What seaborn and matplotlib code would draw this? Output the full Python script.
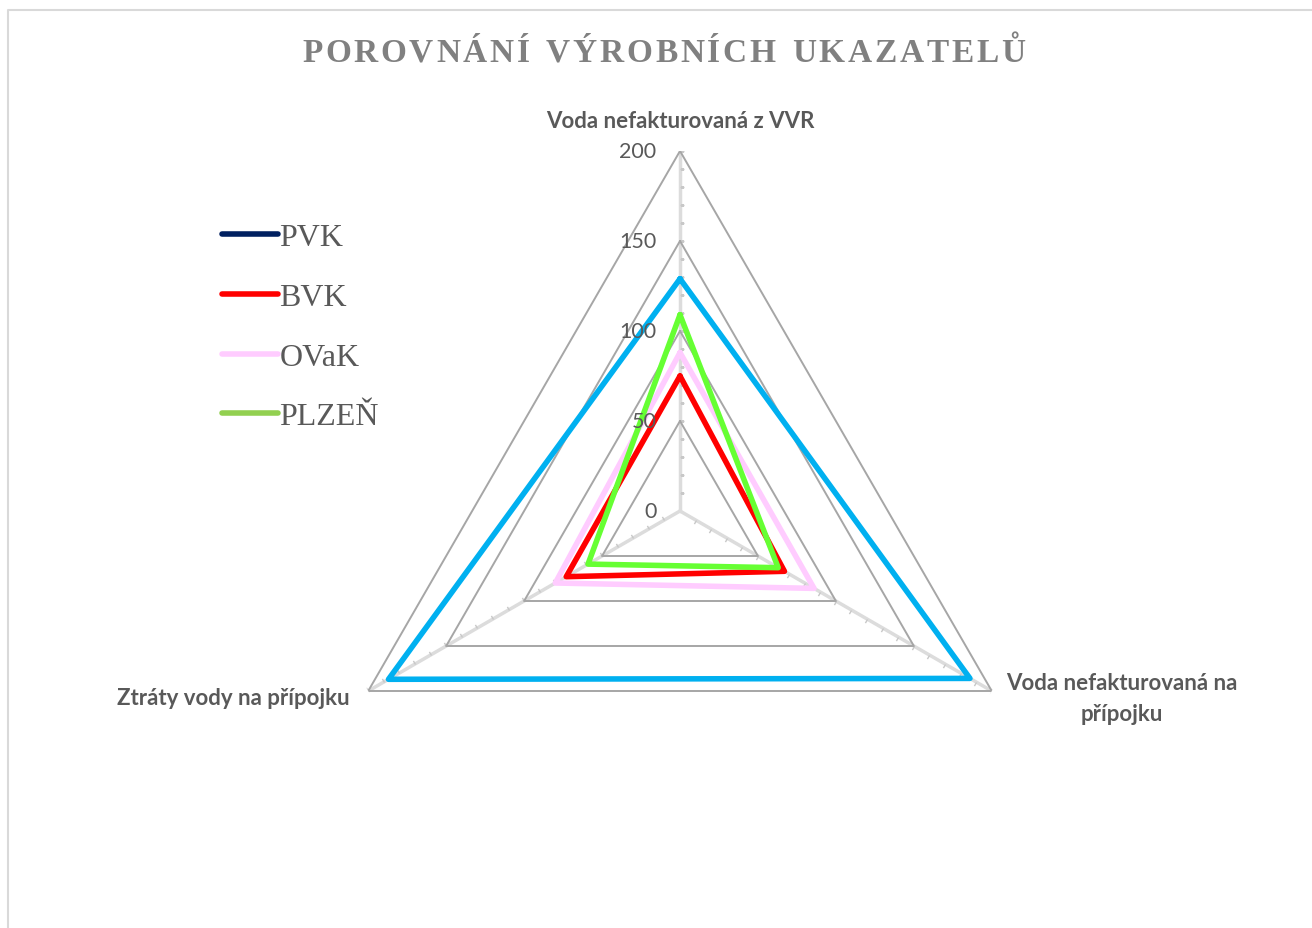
import numpy as np
import pandas as pd
import matplotlib.pyplot as plt
import seaborn as sns
from matplotlib.lines import Line2D
from matplotlib.markers import MarkerStyle
from matplotlib.transforms import Affine2D

# === Data ===
categories = ["Voda nefakturovaná z VVR", "Voda nefakturovaná na\npřípojku", "Ztráty vody na přípojku"]
companies = ["PVK", "BVK", "OVaK", "PLZEŇ"]
pvk = [129, 186, 187]
bvk = [75, 67, 73]
ovak = [88, 86, 80]
plzen = [109, 63, 59]
grid_levels = [50, 100, 150, 200]
radial_ticks = [0, 50, 100, 150, 200]

line_colors = ["#00B0F0", "#FF0000", "#FFCCFF", "#66FF33"]
legend_colors = ["#002060", "#FF0000", "#FFCCFF", "#92D050"]

# long-form table, first point repeated to close each polygon
n = len(categories)
angles = np.linspace(0, 2 * np.pi, n, endpoint=False)
rows = []
for name, vals in zip(companies, [pvk, bvk, ovak, plzen]):
    for i in range(n + 1):
        rows.append({"company": name, "theta": angles[i % n] if i < n else 2 * np.pi,
                     "value": vals[i % n], "order": i})
df = pd.DataFrame(rows)

sns.set_theme(style="white")
plt.rcParams["font.family"] = ["Lato", "DejaVu Sans"]

W, H = 1312, 929
fig = plt.figure(figsize=(W / 100, H / 100), dpi=100)

# chart area border (top and left edges visible)
fig.add_artist(Line2D([8 / W, 8 / W, 1], [0, 1 - 11 / H, 1 - 11 / H],
                      color="#D9D9D9", lw=1.5, transform=fig.transFigure))

cx, cy, R = 680, 512, 360
ax = fig.add_axes([(cx - R) / W, (H - cy - R) / H, 2 * R / W, 2 * R / H], projection="polar")
ax.set_theta_zero_location("N")
ax.set_theta_direction(-1)

theta_closed = list(angles) + [2 * np.pi]

# spokes with small ticks
for a in angles:
    ax.plot([a, a], [0, 200], color="#DCDCDC", lw=2.5, zorder=1)
    tick = MarkerStyle([(0, 0), (1, 0)], transform=Affine2D().rotate_deg(-np.degrees(a)))
    ax.plot([a] * 20, np.arange(10, 201, 10), ls="none", marker=tick, ms=6,
            mec="#C8C8C8", mew=1, zorder=1)

# triangular grid
for lvl in grid_levels:
    ax.plot(theta_closed, [lvl] * (n + 1), color="#A6A6A6", lw=1.4, zorder=2)

sns.lineplot(data=df, x="theta", y="value", hue="company", hue_order=companies,
             palette=line_colors, sort=False, estimator=None, units="company",
             linewidth=4, legend=False, ax=ax, zorder=3)

ax.set_ylim(0, 200)
ax.grid(False)
ax.spines["polar"].set_visible(False)
ax.set_xticks([])
ax.set_yticks([])
ax.set_xlabel("")
ax.set_ylabel("")
ax.patch.set_alpha(0)

for v in radial_ticks:
    ax.annotate(str(v), xy=(0, v), xytext=(-17, 0), textcoords="offset points",
                ha="right", va="center", fontsize=15.5, color="#595959", zorder=4)

# category labels
lab_kw = dict(fontsize=16, fontweight="bold", color="#595959")
fig.text(680 / W, 1 - 121 / H, categories[0], ha="center", va="center", **lab_kw)
fig.text(1122 / W, 1 - 699 / H, categories[1], ha="center", va="center",
         linespacing=1.55, **lab_kw)
fig.text(350 / W, 1 - 699 / H, categories[2], ha="right", va="center", **lab_kw)

# legend (Excel shows PVK as dark navy in the legend)
handles = [Line2D([0], [0], color=c, lw=4, solid_capstyle="round") for c in legend_colors]
leg = fig.legend(handles, companies, loc="upper left", bbox_to_anchor=(222 / W, 1 - 224 / H),
                 frameon=False, prop={"family": "Liberation Serif", "size": 23},
                 handlelength=1.75, handletextpad=0.05, labelspacing=0.95,
                 borderpad=0, borderaxespad=0)
for t in leg.get_texts():
    t.set_color("#595959")

# letter-spaced title
title = "POROVNÁNÍ VÝROBNÍCH UKAZATELŮ"
tkw = dict(fontsize=24, fontweight="bold", family="Liberation Serif", color="#808080")
renderer = fig.canvas.get_renderer()
widths = []
for ch in title:
    probe = fig.text(0, 0, ch if ch != " " else "n", **tkw)
    widths.append(probe.get_window_extent(renderer).width * (0.6 if ch == " " else 1))
    probe.remove()
left, right = 302, 1025
gap = (right - left - sum(widths)) / (len(title) - 1)
x = left
for ch, w in zip(title, widths):
    if ch != " ":
        fig.text(x / W, 1 - 62 / H, ch, ha="left", va="baseline", **tkw)
    x += w + gap

fig.savefig("out.png", dpi=100)
